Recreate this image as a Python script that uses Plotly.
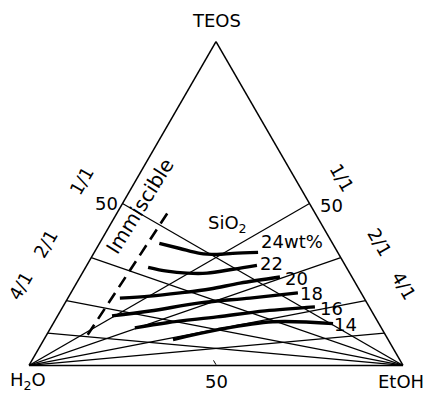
import plotly.graph_objects as go

W, H = 431, 394
ML, MR, MT, MB = 29, 28, 41, 28

# ---- data (wt%) ----
ratio_labels = ["1/1", "2/1", "4/1"]
edge_teos = [50, 33.3, 20, 10]   # TEOS wt% where guide lines meet the side edges

# immiscibility boundary
imm_teos = [46.9, 8.6]
imm_etoh = [13.5, 10.9]

sio2_labels = ["24wt%", "22", "20", "18", "16", "14"]
curve_teos = [
    [37.7, 36.1, 34.6, 34.3, 34.6, 34.9],
    [30.3, 29.1, 28.5, 28.5, 29.7, 30.9],
    [20.8, 21.4, 22.4, 23.6, 25.4, 27.3],
    [15.3, 16.8, 19.3, 20.8, 22.4],
    [11.6, 13.2, 15.0, 16.85, 18.1],
    [8.0, 11.0, 13.5, 12.9],
]
curve_etoh = [
    [16.0, 22.3, 28.4, 33.1, 37.2, 43.8],
    [16.7, 22.35, 28.0, 33.35, 39.7, 45.5],
    [13.9, 21.65, 29.2, 36.6, 43.7, 53.45],
    [14.55, 23.95, 36.05, 48.7, 60.7],
    [22.5, 30.3, 42.77, 54.68, 67.4],
    [34.5, 44.8, 58.45, 74.85],
]

fig = go.Figure()

thin = dict(color="black", width=1.2)
for t in edge_teos:
    fig.add_trace(go.Scatterternary(a=[t, 0], b=[100 - t, 0], c=[0, 100],
                                    mode="lines", line=thin, hoverinfo="skip"))
    fig.add_trace(go.Scatterternary(a=[t, 0], b=[0, 100], c=[100 - t, 0],
                                    mode="lines", line=thin, hoverinfo="skip"))

fig.add_trace(go.Scatterternary(
    a=imm_teos, c=imm_etoh, b=[100 - a - c for a, c in zip(imm_teos, imm_etoh)],
    mode="lines", line=dict(color="black", width=2.6, dash="12px,7px"), hoverinfo="skip"))

for ta, ce in zip(curve_teos, curve_etoh):
    fig.add_trace(go.Scatterternary(
        a=ta, c=ce, b=[100 - a - c for a, c in zip(ta, ce)],
        mode="lines", line=dict(color="black", width=3.4, shape="spline"), hoverinfo="skip"))

FAM = "DejaVu Sans"
axis_common = dict(showgrid=False, linecolor="black", linewidth=1.5,
                   showticklabels=False, showline=True, title=dict(text=""))

fig.update_layout(
    width=W, height=H, margin=dict(l=ML, r=MR, t=MT, b=MB, autoexpand=False),
    paper_bgcolor="white", showlegend=False,
    ternary=dict(
        sum=100, bgcolor="white",
        aaxis=dict(ticks="", **axis_common),
        baxis=dict(tickvals=[50], ticks="inside", ticklen=5,
                   tickcolor="black", tickwidth=1.2, **axis_common),
        caxis=dict(ticks="", **axis_common),
    ),
)

pw, ph = W - ML - MR, H - MT - MB


def px(x, y):
    return (x - ML) / pw, (H - MB - y) / ph


def ann(text, x, y, angle=0, size=18):
    xp, yp = px(x, y)
    fig.add_annotation(text=text, x=xp, y=yp, xref="paper", yref="paper",
                       xanchor="center", yanchor="middle",
                       showarrow=False, textangle=angle,
                       font=dict(family=FAM, size=size, color="black"))


# vertex names and the 50 marks
ann("TEOS", 216, 20)
ann("H<sub>2</sub>O", 28, 381)
ann("EtOH", 401, 381)
ann("50", 216, 381)
ann("50", 106, 203)
ann("50", 331, 205)

left_pos = [(81, 181), (45, 244), (20, 286)]
right_pos = [(342, 177), (379, 242), (404, 285)]
for lab, (x, y) in zip(ratio_labels, left_pos):
    ann(lab, x, y, -60)
for lab, (x, y) in zip(ratio_labels, right_pos):
    ann(lab, x, y, 60)

ann("Immiscible", 140, 206, -58, 20)
ann("SiO<sub>2</sub>", 227, 224)
lab_pos = [(292, 242), (271, 263), (296, 278), (311, 293), (331, 308), (345, 324)]
for lab, (x, y) in zip(sio2_labels, lab_pos):
    ann(lab, x, y)

fig.write_html("out.html", config={"displayModeBar": False},
               post_script="document.body.style.margin='0';")
